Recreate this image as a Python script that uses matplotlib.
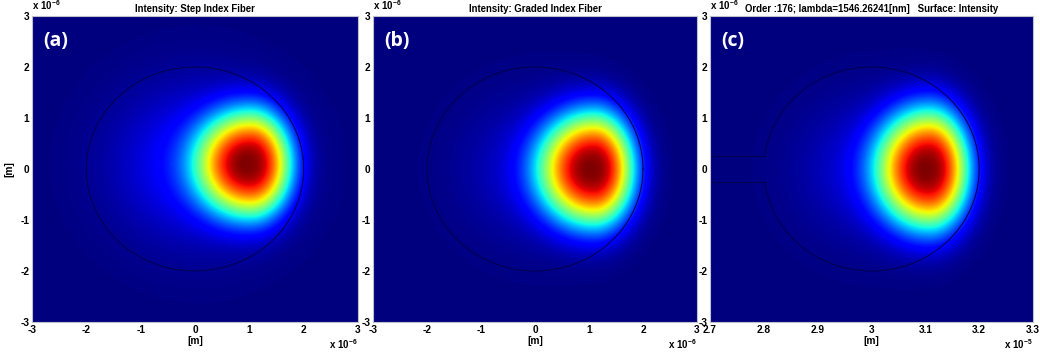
import numpy as np
import matplotlib
matplotlib.use("Agg")
import matplotlib.pyplot as plt
from matplotlib.ticker import FixedLocator, FuncFormatter

plt.rcParams["font.family"] = "Liberation Sans"
plt.rcParams["font.weight"] = "bold"
plt.rcParams["mathtext.fontset"] = "custom"
plt.rcParams["mathtext.rm"] = "Liberation Sans:bold"
plt.rcParams["mathtext.default"] = "rm"

# panel texts
titles = [
    "Intensity: Step Index Fiber",
    "Intensity: Graded Index Fiber",
    "Order :176; lambda=1546.26241[nm]   Surface: Intensity",
]
tags = ["(a)", "(b)", "(c)"]

# fiber geometry (micrometres)
fiber_cx = [0.0, 0.0, 30.0]
core_radius = 2.0
stub_half_width = 0.25  # straight guide entering panel (c)

# mode shape (micrometres, relative to fiber centre)
mode_x = [1.05, 1.11, 1.09]
mode_y = [0.10, 0.0, 0.0]
w_left = [0.98, 1.00, 0.96]
w_right = [0.72, 0.72, 0.72]
w_y = [1.03, 1.10, 1.16]
tail_amp = [0.15, 0.09, 0.10]
tail_w = [1.45, 1.3, 1.3]

# axis ticks
x_ticks = [[-3, -2, -1, 0, 1, 2, 3], [-3, -2, -1, 0, 1, 2, 3],
           [27, 28, 29, 30, 31, 32, 33]]
x_exp = [-6, -6, -5]
y_ticks = [-3, -2, -1, 0, 1, 2, 3]

W, H = 1040, 353
fig = plt.figure(figsize=(W / 100, H / 100), dpi=100)
lefts = [32, 373, 710]
widths = [326, 324, 323]
top, bottom = 16, 322

for i in range(3):
    ax = fig.add_axes([lefts[i] / W, (H - bottom) / H, widths[i] / W, (bottom - top) / H])
    cx = fiber_cx[i]
    xs = np.linspace(cx - 3, cx + 3, 500)
    ys = np.linspace(-3, 3, 500)
    X, Y = np.meshgrid(xs, ys)
    dx = X - cx - mode_x[i]
    dy = Y - mode_y[i]
    wx = np.where(dx < 0, w_left[i], w_right[i])
    main = np.exp(-(np.abs(dx / wx) ** 2 + np.abs(dy / w_y[i]) ** 2) ** 1.3)
    tail = tail_amp[i] * np.exp(-((dx + 1.0) / tail_w[i]) ** 2 - (dy / tail_w[i]) ** 2)
    inten = main + tail
    inten = inten / inten.max()

    ax.imshow(inten, cmap="jet", origin="lower", aspect="auto",
              extent=[(cx - 3) * 1e-6, (cx + 3) * 1e-6, -3e-6, 3e-6],
              interpolation="bilinear", vmin=0, vmax=1)

    # core outline
    lc = "#00004a"
    if i < 2:
        t = np.linspace(0, 2 * np.pi, 400)
        ax.plot((cx + core_radius * np.cos(t)) * 1e-6, core_radius * np.sin(t) * 1e-6,
                color=lc, lw=0.7)
    else:
        a0 = np.arcsin(stub_half_width / core_radius)
        t = np.linspace(-np.pi + a0, np.pi - a0, 400)
        ax.plot((cx + core_radius * np.cos(t)) * 1e-6, core_radius * np.sin(t) * 1e-6,
                color=lc, lw=0.7)
        xj = cx - core_radius * np.cos(a0)
        for s in (1, -1):
            ax.plot([(cx - 3) * 1e-6, xj * 1e-6],
                    [s * stub_half_width * 1e-6] * 2, color=lc, lw=0.7)

    ax.set_xlim((cx - 3) * 1e-6, (cx + 3) * 1e-6)
    ax.set_ylim(-3e-6, 3e-6)

    sx = 10.0 ** x_exp[i]
    ax.xaxis.set_major_locator(FixedLocator([v * 1e-6 for v in x_ticks[i]]))
    ax.xaxis.set_major_formatter(FuncFormatter(lambda v, p, sx=sx: f"{v / sx:g}"))
    ax.yaxis.set_major_locator(FixedLocator([v * 1e-6 for v in y_ticks]))
    ax.yaxis.set_major_formatter(FuncFormatter(lambda v, p: f"{v / 1e-6:g}"))
    ax.tick_params(direction="in", length=0, labelsize=7.3, pad=2)
    for lab in ax.get_xticklabels() + ax.get_yticklabels():
        lab.set_fontweight("bold")
    for sp in ax.spines.values():
        sp.set_color("#c0c0c8")
        sp.set_linewidth(0.8)

    ax.set_title(titles[i], fontsize=6.9, fontweight="bold", pad=3)
    ax.set_xlabel("[m]", fontsize=7.3, fontweight="bold", labelpad=1)
    if i == 0:
        ax.set_ylabel("[m]", fontsize=7.3, fontweight="bold", labelpad=4)

    ax.text(0.0, 1.012, r"x 10$^{-6}$", transform=ax.transAxes, fontsize=7,
            ha="left", va="bottom")
    ax.text(1.0, -0.072, r"x 10$^{%d}$" % x_exp[i], transform=ax.transAxes,
            fontsize=7, ha="right", va="center")
    ax.text(0.034, 0.95, tags[i], transform=ax.transAxes, color="white",
            fontsize=14, fontweight="bold", family="Open Sans", ha="left", va="top")

fig.savefig("out.png", dpi=100)
